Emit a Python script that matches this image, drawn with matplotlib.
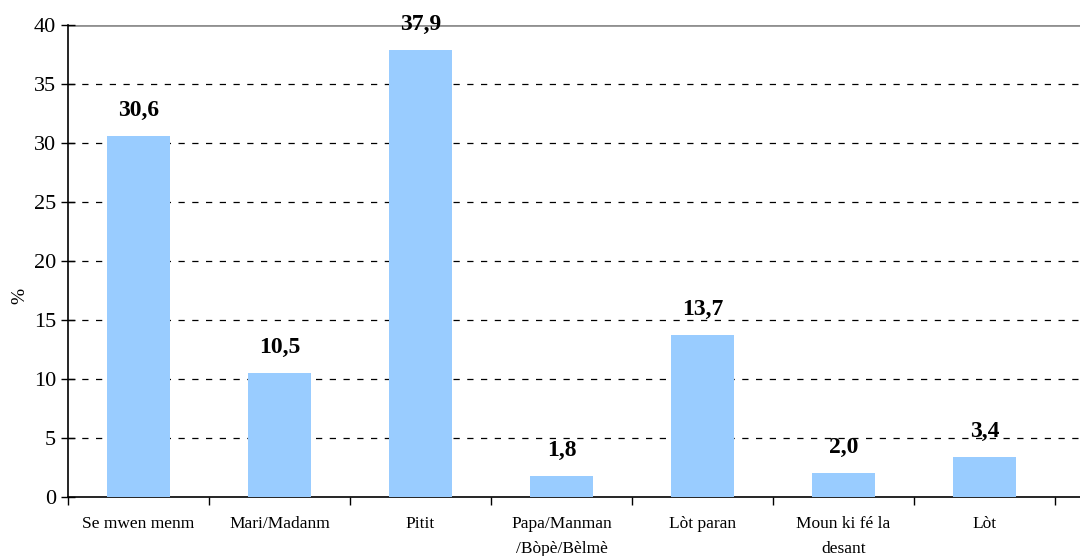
import matplotlib.pyplot as plt
import numpy as np

plt.rcParams['font.family'] = ['Liberation Serif', 'DejaVu Serif']

categories = ["Se mwen menm", "Mari/Madanm", "Pitit", "Papa/Manman\n/Bòpè/Bèlmè",
              "Lòt paran", "Moun ki fé la\ndesant", "Lòt"]
values = [30.6, 10.5, 37.9, 1.8, 13.7, 2.0, 3.4]

fig = plt.figure(figsize=(10.8, 5.56), dpi=100)
ax = fig.add_axes([68/1080, 59/556, 1012/1080, 472/556])

x = np.arange(len(categories))
ax.bar(x, values, width=0.45, color='#99ccff', zorder=3)

for xi, v in zip(x, values):
    ax.annotate('{0:.1f}'.format(v).replace('.', ','), (xi, v), xytext=(0, 11),
                textcoords='offset points', ha='center', va='bottom',
                fontsize=17, fontweight='bold')

ax.set_xlim(-0.5, -0.5 + 1012/141)
ax.set_ylim(0, 40)
ax.set_yticks(range(0, 45, 5))
for yv in range(5, 40, 5):
    ax.axhline(yv, color='black', lw=0.9, ls=(0, (5, 6)), zorder=1)
ax.axhline(40, color='#909090', lw=2, zorder=1)

ax.set_xticks(x)
ax.set_xticklabels(categories, fontsize=12.5, linespacing=1.75)
ax.set_xticks(np.arange(-0.5, 7, 1), minor=True)
ax.tick_params(axis='x', which='major', length=0, pad=14)
ax.tick_params(axis='x', which='minor', length=6, width=1, direction='out')
ax.tick_params(axis='y', labelsize=16, direction='inout', length=10, width=1)

for s in ['top', 'right']:
    ax.spines[s].set_visible(False)
ax.spines['left'].set_linewidth(1.2)
ax.spines['bottom'].set_linewidth(1.2)

ax.set_ylabel('%', fontsize=14)
ax.yaxis.set_label_coords(-0.039, 0.426)

plt.savefig('out.png', dpi=100)
